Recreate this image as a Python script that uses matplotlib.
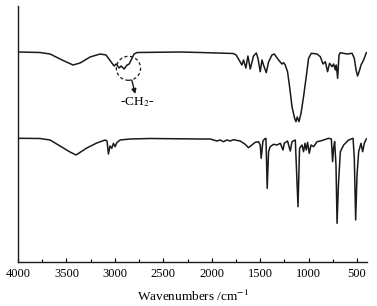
import matplotlib
matplotlib.use("Agg")
import matplotlib.pyplot as plt
from matplotlib.patches import Ellipse

plt.rcParams['font.family'] = ['Liberation Serif', 'DejaVu Serif']
plt.rcParams['mathtext.fontset'] = 'stix'

# Upper spectrum (wavenumber, transmittance a.u.)
top_wn = [4000, 3773, 3669, 3545, 3432, 3359, 3256, 3153, 3091, 3039, 3008, 2987, 2956, 2936,
          2905, 2874, 2853, 2822, 2802, 2771, 2326, 2120, 1779, 1748, 1689, 1672, 1648, 1627,
          1603, 1569, 1541, 1524, 1500, 1482, 1466, 1438, 1414, 1379, 1355, 1311, 1276, 1259,
          1242, 1218, 1197, 1172, 1146, 1131, 1118, 1100, 1079, 1053, 1025, 1001, 973, 914,
          880, 852, 828, 805, 784, 759, 743, 725, 715, 701, 687, 673, 604, 552, 529, 511,
          495, 474, 460, 433, 405]
top_t = [210, 209.5, 208, 202, 197, 199, 205, 208, 207, 200, 196, 198, 194, 196,
         193, 197, 198, 204, 208, 209.5, 210, 209.5, 208.5, 207, 197, 202, 194, 206,
         193, 206, 209, 204, 190.3, 202, 197, 189.3, 200, 207, 208, 202, 198, 199.3,
         197, 190.3, 175.3, 155.3, 144, 140.3, 145, 140.3, 148.7, 165.3, 185.3, 203.7, 208.7, 208,
         205.3, 198, 200.3, 190.3, 198.7, 195.3, 198, 192, 197, 183.7, 207, 209.3, 208, 208.7, 203.7, 192,
         186, 192, 197, 202, 209.3]

# Lower spectrum
bot_wn = [4000, 3773, 3669, 3566, 3463, 3401, 3290, 3187, 3101, 3081, 3067, 3050, 3032, 3015,
          2998, 2980, 2946, 2843, 2636, 2120, 2016, 1947, 1913, 1879, 1844, 1810, 1776, 1707,
          1655, 1621, 1586, 1552, 1517, 1500, 1490, 1472, 1455, 1441, 1428, 1414, 1397, 1362,
          1327, 1293, 1265, 1252, 1218, 1190, 1172, 1138, 1110, 1094, 1069, 1053, 1038, 1025,
          1011, 994, 976, 949, 914, 880, 846, 794, 766, 753, 743, 732, 718, 707, 693, 673,
          639, 588, 542, 529, 515, 501, 484, 460, 443, 426, 405]
bot_t = [123.7, 123.5, 122, 116, 110, 107, 114, 119, 122, 121, 108, 116, 113.7, 118.7,
         115.3, 119.3, 122, 123, 123.5, 123, 123, 121, 122, 120.3, 122, 121, 122.3, 121,
         117.7, 114.3, 117, 119.7, 120.3, 117, 103.7, 121, 123, 123.7, 73.7, 110.3, 115.3, 117.7,
         117, 118.7, 112, 118.7, 121, 111, 120.3, 122, 55.3, 113.7, 117, 110.3, 118.7, 112,
         119.7, 108.7, 117, 115.3, 120.3, 121, 122, 123.7, 123, 100.3, 113.7, 120.3, 97, 38.7, 77, 110.3,
         117, 122, 123.7, 103.7, 42, 87, 110.3, 118.7, 110.3, 118.7, 123]

x_ticks = [4000, 3500, 3000, 2500, 2000, 1500, 1000, 500]
x_minor = [3750, 3250, 2750, 2250, 1750, 1250, 750]
annot_label = "-CH$_2$-"
x_label = "Wavenumbers /cm$^{-1}$"

fig = plt.figure(figsize=(3.77, 3.06), dpi=100)
ax = fig.add_axes([18/377, 44/306, 349/377, 256/306])

line_kw = dict(color='#1a1a1a', lw=1.1)
ax.plot(top_wn, top_t, **line_kw)
ax.plot(bot_wn, bot_t, **line_kw)

ax.set_xlim(4000, 398)
ax.set_ylim(0, 256)

for s in ['top', 'right']:
    ax.spines[s].set_visible(False)
for s in ['left', 'bottom']:
    ax.spines[s].set_linewidth(1.0)
    ax.spines[s].set_color('#1a1a1a')

ax.set_yticks([])
ax.set_xticks(x_ticks)
ax.set_xticks(x_minor, minor=True)
ax.tick_params(axis='x', which='major', direction='in', length=3, width=0.8, labelsize=9, pad=4.5)
ax.tick_params(axis='x', which='minor', direction='in', length=2, width=0.8)

ax.set_xlabel(x_label, fontsize=9.5, labelpad=6)

# Annotation circle and arrow
ax.add_patch(Ellipse((2860, 193.7), width=250, height=24, fill=False,
                     ls=(0, (2.5, 2)), lw=0.9, color='#1a1a1a'))
ax.annotate('', xy=(2790, 168), xytext=(2826, 182),
            arrowprops=dict(arrowstyle='-|>', color='#1a1a1a', lw=1.0,
                            mutation_scale=7, shrinkA=0, shrinkB=0))
ax.text(2774, 160, annot_label, fontsize=9.5, ha='center', va='center')

fig.savefig('out.png', dpi=100)
